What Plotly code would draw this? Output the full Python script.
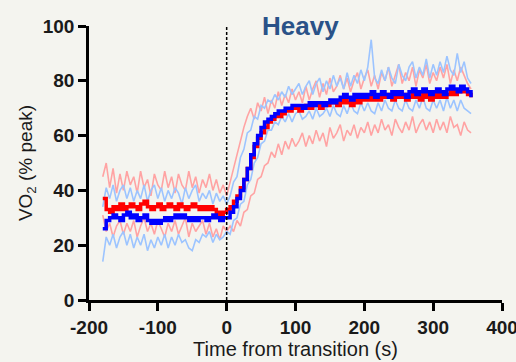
import plotly.graph_objects as go

# time axis (s), 5-s bins from -180 to 355
time_s = list(range(-180, 360, 5))

red_mean = [37,33,32,34,33,35,33,34,35,34, 33,35,36,34,33,34,35,33,34,35,
            34,33,35,34,33,34,35,34,33,34, 33,34,33,32,31,32,33,
            34,36,38,41,44,48,52,56,59,61,63,65,66,67,67,68,69,69,70,70,
            69,70,71,70,71,71,70,72,71,72,72,71,72,73,72,71,73,72,73,73,
            74,73,74,73,74,75,74,73,75,74,75,73,74,75,74,73,75,74,73,75,
            74,76,74,75,76,75,76,77,76,75,74]

blue_mean = [26,29,30,31,30,29,31,32,30,31, 29,30,31,29,28,29,28,29,30,29,
             30,31,30,31,30,29,30,29,30,30, 29,30,31,30,29,30,30,
             32,34,37,40,44,48,53,57,60,63,65,66,67,68,69,69,70,70,71,71,
             71,70,71,72,71,72,72,71,72,73,72,73,74,75,74,73,75,74,75,74,
             75,76,74,75,76,75,74,76,75,76,75,74,76,77,75,76,77,76,75,76,
             77,76,75,77,78,77,76,78,77,76,74]

red_upper = [45,50,41,48,39,46,40,47,42,45, 39,47,41,44,38,46,42,40,47,41,
             45,39,46,42,40,47,41,45,39,44, 41,46,40,44,39,42,38,
             43,49,53,58,63,67,70,66,72,69,74,68,73,70,76,71,75,72,77,73,
             76,72,78,73,77,80,74,79,75,81,76,78,82,77,81,76,80,83,77,81,
             84,78,82,77,83,80,85,78,82,86,79,83,80,85,78,84,81,86,79,83,
             80,85,81,86,79,84,80,85,82,79,77]

red_lower = [31,25,28,23,27,29,24,28,25,29, 23,27,30,25,28,24,29,26,23,28,
             25,29,24,27,30,23,28,25,27,29, 24,28,23,26,22,27,25,
             27,25,29,27,32,33,38,39,44,45,49,50,54,52,57,53,58,55,59,56,
             58,61,56,60,57,62,58,61,56,63,59,61,64,58,62,60,64,59,63,61,
             65,60,64,61,66,62,64,60,66,63,61,65,62,67,61,64,66,62,65,61,
             66,62,65,61,67,63,64,60,65,62,61]

blue_upper = [34,41,37,42,36,40,42,37,41,36, 40,37,42,36,40,42,37,41,36,40,
              37,41,39,35,41,37,40,42,36,39, 37,40,35,39,36,38,35,
              38,43,45,52,55,61,62,67,66,71,70,73,72,75,73,76,74,78,75,77,
              79,75,78,80,75,79,81,76,80,77,82,78,81,77,83,78,82,79,84,80,
              85,95,81,79,84,80,85,81,79,86,82,80,85,87,81,85,82,88,81,86,
              82,87,83,89,84,82,90,83,87,81,79]

blue_lower = [14,23,20,24,19,23,25,20,24,19, 23,20,24,18,22,19,23,20,24,19,
              23,20,24,21,22,19,18,22,21,24, 23,25,21,24,22,23,25,
              24,29,30,35,36,42,44,50,52,57,58,62,62,65,64,67,65,68,65,68,
              69,66,67,69,66,70,67,68,70,67,71,68,67,71,68,72,69,68,72,69,
              72,69,68,72,69,73,70,69,73,70,69,73,70,69,73,70,74,70,69,73,
              70,73,69,74,70,73,69,73,70,69,68]

x_ticks = [-200, -100, 0, 100, 200, 300, 400]
x_tick_text = ["-200", "-100", "0", "100", "200", "300", "400"]
y_ticks = [0, 20, 40, 60, 80, 100]

LIGHT_RED = "#ffa3a3"
LIGHT_BLUE = "#9cc4ff"
BG = "#f4f4ef"
FONT = "Liberation Sans, Arial, sans-serif"

fig = go.Figure()
for ys, col in [(red_upper, LIGHT_RED), (red_lower, LIGHT_RED),
                (blue_upper, LIGHT_BLUE), (blue_lower, LIGHT_BLUE)]:
    fig.add_trace(go.Scatter(x=time_s, y=ys, mode="lines",
                             line=dict(color=col, width=1.6),
                             hoverinfo="skip", showlegend=False))
fig.add_trace(go.Scatter(x=time_s, y=red_mean, mode="lines",
                         line=dict(color="#ff0000", width=3.5, shape="hv"),
                         showlegend=False))
fig.add_trace(go.Scatter(x=time_s, y=blue_mean, mode="lines",
                         line=dict(color="#0000ff", width=3.5, shape="hv"),
                         showlegend=False))

fig.add_shape(type="line", x0=0, x1=0, y0=0, y1=100, xref="x", yref="y",
              line=dict(color="black", width=1.5, dash="3px,2px"), layer="above")

fig.add_annotation(x=0.511, y=1.0, xref="paper", yref="paper", text="Heavy",
                   showarrow=False, xanchor="center", yanchor="middle",
                   font=dict(family=FONT, size=26, color="#2a5288", weight="bold"))

fig.update_layout(
    width=516, height=362,
    margin=dict(l=89, r=14, t=26, b=62),
    paper_bgcolor=BG, plot_bgcolor=BG,
    font=dict(family=FONT, color="black"),
    xaxis=dict(range=[-200, 400], tickvals=x_ticks, ticktext=x_tick_text,
               showgrid=False, zeroline=False, ticklabeloverflow="allow",
               automargin=False,
               showline=True, linecolor="black", linewidth=2.5,
               ticks="outside", ticklen=8, tickwidth=2.5, tickcolor="black",
               tickfont=dict(size=19, weight="bold", color="#1a1a1a"),
               title=dict(text="Time from transition (s)", standoff=6,
                          font=dict(size=20, color="#1a1a1a"))),
    yaxis=dict(range=[0, 100], tickvals=y_ticks, showgrid=False, zeroline=False,
               automargin=False,
               showline=True, linecolor="black", linewidth=2.5,
               ticks="outside", ticklen=8, tickwidth=2.5, tickcolor="black",
               tickfont=dict(size=19, weight="bold", color="#1a1a1a"),
               title=dict(text="VO<sub>2</sub> (% peak)", standoff=6,
                          font=dict(size=19, color="#1a1a1a"))),
)

fig.write_html("out.html")
